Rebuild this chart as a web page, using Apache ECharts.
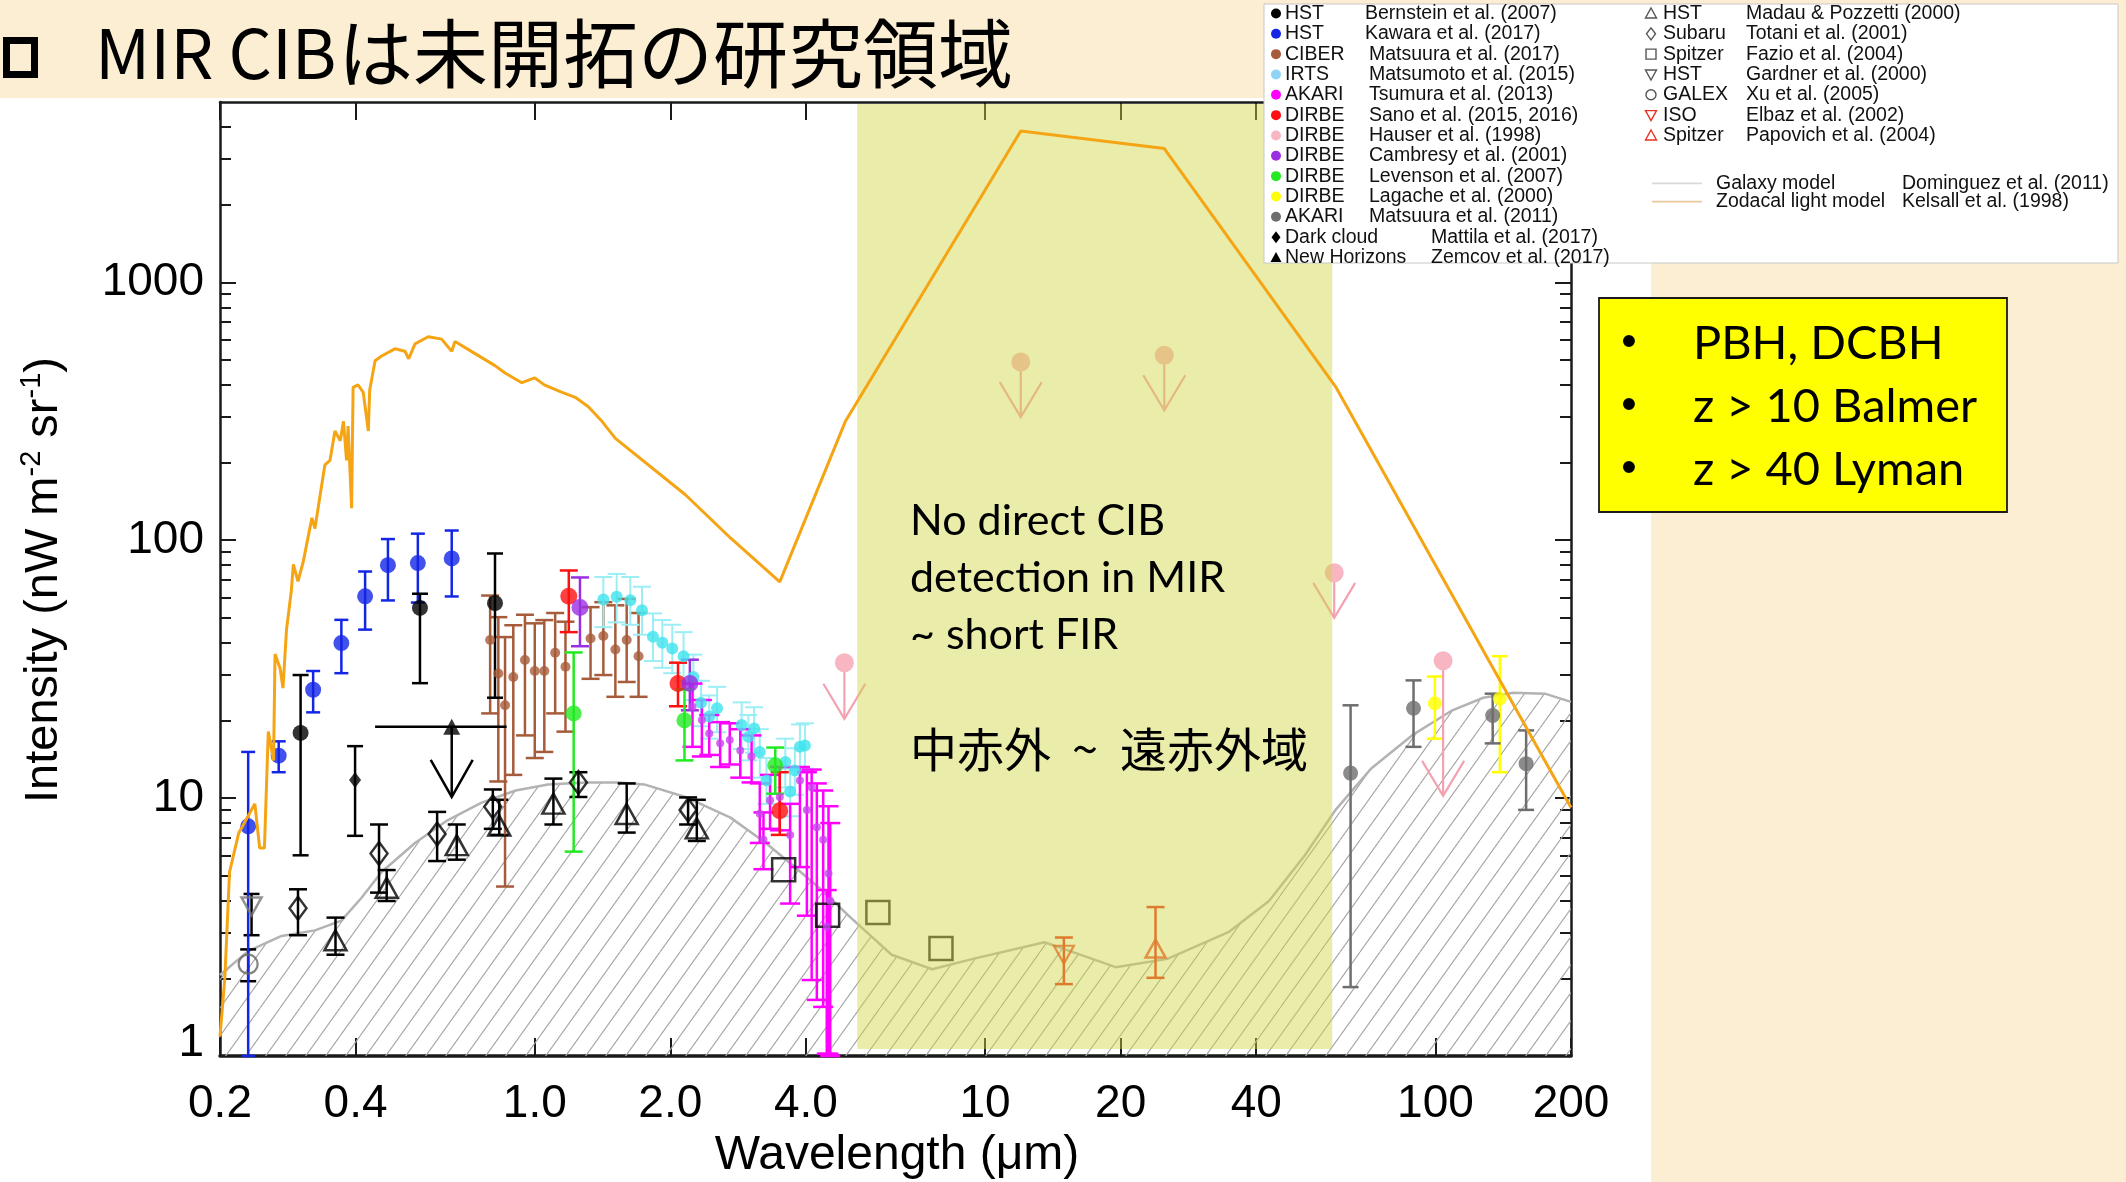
<!DOCTYPE html>
<html><head><meta charset="utf-8">
<script src="https://cdn.jsdelivr.net/npm/echarts@6/dist/echarts.min.js"></script>
<style>html,body{margin:0;padding:0;background:#fbeed2;}#c{width:2126px;height:1182px;}</style>
</head><body><div id="c"></div>
<script>
// ---------- axis ticks ----------
const xTickValues = [0.2, 0.4, 1, 2, 4, 10, 20, 40, 100, 200];
const xTickLabels = ['0.2', '0.4', '1.0', '2.0', '4.0', '10', '20', '40', '100', '200'];
const yTickValues = [1, 10, 100, 1000];
const yTickLabels = ['1', '10', '100', '1000'];
const yMinorTicks = [2,3,4,5,6,7,8,9,20,30,40,50,60,70,80,90,200,300,400,500,600,700,800,900,2000,3000,4000];
const xRange = [0.2, 200];
const yRange = [1, 5000];

// ---------- models [wavelength um, intensity] ----------
const zodiacalModel = [[0.2,1.19],[0.205,2.0],[0.21,5.17],[0.22,7.3],[0.229,8.3],[0.239,9.5],[0.245,6.4],[0.251,6.4],[0.256,18.1],[0.263,14.0],[0.265,36.2],[0.272,31.8],[0.276,26.7],[0.281,45],[0.288,63.5],[0.291,80.6],[0.298,69.3],[0.306,82.3],[0.32,122],[0.325,111],[0.334,151],[0.342,196],[0.351,204],[0.36,265],[0.37,243],[0.376,289],[0.382,204],[0.385,277],[0.392,133],[0.395,391],[0.405,400],[0.416,374],[0.427,265],[0.43,382],[0.442,496],[0.457,518],[0.489,552],[0.515,540],[0.525,505],[0.542,577],[0.58,615],[0.621,602],[0.654,540],[0.665,589],[0.737,529],[0.816,475],[0.859,445],[0.936,408],[1.0,426],[1.05,400],[1.15,374],[1.23,358],[1.315,329],[1.41,289],[1.51,248],[2.16,150],[2.72,102],[3.5,68.9],[4.9,290],[12,3860],[25,3300],[60,394],[200,9.2]];
const galaxyModel = [[0.2,2.06],[0.231,2.55],[0.274,2.92],[0.325,3.07],[0.372,3.35],[0.412,4.1],[0.457,5.17],[0.542,6.7],[0.64,8.2],[0.762,9.6],[0.907,10.7],[1.07,11.3],[1.3,11.5],[1.54,11.5],[1.75,11.3],[2.16,10.1],[2.72,8.4],[3.26,6.7],[3.83,5.3],[4.3,4.46],[5.03,3.44],[6.2,2.47],[7.63,2.17],[9.4,2.38],[13.55,2.76],[15.85,2.51],[19.5,2.21],[25.4,2.38],[34.7,3.02],[42.7,3.99],[51.3,6.0],[60,9.0],[71.9,13.0],[88.7,17.5],[109,21.9],[127.7,24.5],[149,25.6],[175,25.4],[200,23.6]];

// ---------- measurements [wavelength, intensity, errLow, errHigh] ----------
const bernstein = [[0.302,17.9,6.0,30],[0.556,54.6,27.9,62],[0.816,57,24.5,88.8]];
const kawara = [[0.231,7.77,1.0,15.1],[0.27,14.6,12.6,16.6],[0.322,26.3,21.5,31.1],[0.372,39.9,30.5,49.1],[0.42,60.6,45,75.6],[0.472,80,58.4,101],[0.55,81.5,57.3,106],[0.654,85,60.5,109]];
const ciber = [[0.796,41,21.3,61],[0.83,30.4,11.6,50.3],[0.859,22.9,4.54,42.1],[0.896,29.5,12.3,46.8],[0.951,34.3,17.5,51.4],[1.0,31.1,14.3,47.6],[1.05,31.1,15.1,49],[1.11,36.6,21.3,52.2],[1.17,32.3,18.1,48.3],[1.33,41.6,29,55],[1.42,42.5,30,57.5],[1.51,37.7,24.7,55.9],[1.6,41,28.2,59.2],[1.70,35.5,24.7,52.2]];
const irts = [[1.42,58.9,46,72],[1.52,60.3,48,74],[1.63,58.5,47,72],[1.73,53.5,43,66],[1.83,42.2,34,52],[1.92,40,32,49],[2.02,38,30.5,47],[2.14,35.5,28.5,44],[2.25,29.5,24,36],[2.34,23.4,19,28.5],[2.44,20.7,17,25],[2.54,22.3,18,27],[2.88,19.2,15.5,23.5],[2.98,17.3,14,21],[3.07,18.6,15,22.5],[3.16,15.1,12,18.5],[3.27,11.7,9.5,14.3],[3.6,13.8,11,17],[3.69,10.6,8.5,13],[3.78,12.8,10.3,15.6],[3.88,15.8,12.8,19.3],[3.98,16.0,13,19.5]];
const akariTsumura = [[2.24,22.6,15.8,27.8],[2.35,20.1,14.5,24.0],[2.44,17.8,14.7,21.0],[2.58,16.3,13.2,19.7],[2.71,16.8,13.5,19.5],[2.86,15.3,12.0,18.5],[3.03,14.5,11.5,17.5],[3.16,8.7,6.7,11.4],[3.22,6.9,5.3,8.8],[3.33,9.8,7.6,12.3],[3.5,10.1,7.5,13.2],[3.69,7.2,3.9,9.5],[3.88,11.7,5.4,13.2],[4.02,9.0,3.5,12.6],[4.12,11.0,1.97,12.9],[4.23,7.7,1.65,11.4],[4.37,6.9,1.55,10.7],[4.45,3.17,1.02,4.4],[4.49,5.1,1.02,9.3],[4.53,4.0,1.0,8.0]];
const sano = [[1.19,60.6,44,76.3],[2.08,27.8,22.7,33.5],[3.5,8.94,7.2,12.6]];
const cambresy = [[1.26,54.8,38.8,71.7],[2.21,27.8,21.9,34.4]];
const levenson = [[1.22,21.3,6.2,36.7],[2.15,20,14,26.4],[3.42,13.4,10.4,15.7]];
const lagache = [[99.7,23.3,17,29.6],[139,24.3,12.6,35.5]];
const matsuura2011 = [[64.8,12.5,1.85,22.9],[89.4,22.3,15.8,28.6],[134,20.9,16.3,25.4],[159,13.6,9.0,18.3]];
const mattila = [[0.399,11.75,7.14,15.9]];
const madau = [[0.361,2.81,2.47,3.44],[0.469,4.49,3.99,5.26],[0.671,6.57,5.77,7.9],[0.834,7.82,7.2,9.85],[1.10,9.52,7.9,11.9],[1.60,8.68,7.35,11.4],[2.29,7.63,6.82,9.85]];
const totani = [[0.298,3.74,2.94,4.43],[0.451,6.1,4.3,7.9],[0.607,7.26,5.7,8.84],[0.807,9.25,7.6,10.8],[1.25,11.5,10.1,12.6],[2.19,9.0,7.9,10.06]];
const gardner = [[0.235,3.8,2.94,4.25]];
const xu = [[0.231,2.27,1.95,2.59]];
const elbaz = [[14.96,2.47,1.90,2.88]];
const papovich = [[23.9,2.61,2.01,3.78]];
const fazio = [[3.57,5.27],[4.47,3.51],[5.78,3.6],[7.98,2.61]];
// upper limits [wavelength, intensity, arrow tip]
const hauserLimits = [[4.87,33.5,20.3],[12,491,300],[25,521,319],[59.6,74.8,50],[104,34.1,10.2]];
// New Horizons [wavelength, intensity, arrow tip, bandLow, bandHigh]
const zemcov = [[0.654,18.9,10.1,0.442,0.866]];
// MIR gap band [from, to, yLow, yHigh]
const mirBand = [[5.2, 59, 1, 5000]];

// ---------- texts ----------
const titleLatin = 'MIR CIB';
const titleJa = 'は未開拓の研究領域';
const bandLines = ['No direct CIB', 'detection in MIR', '~ short FIR'];
const bandJa = ['中赤外', '~', '遠赤外域'];
const boxLines = ['PBH, DCBH', 'z > 10 Balmer', 'z > 40 Lyman'];
const legendLeft = [['HST','Bernstein et al. (2007)'],['HST','Kawara et al. (2017)'],['CIBER','Matsuura et al. (2017)'],['IRTS','Matsumoto et al. (2015)'],['AKARI','Tsumura et al. (2013)'],['DIRBE','Sano et al. (2015, 2016)'],['DIRBE','Hauser et al. (1998)'],['DIRBE','Cambresy et al. (2001)'],['DIRBE','Levenson et al. (2007)'],['DIRBE','Lagache et al. (2000)'],['AKARI','Matsuura et al. (2011)'],['Dark cloud','Mattila et al. (2017)'],['New Horizons','Zemcov et al. (2017)']];
const legendRight = [['HST','Madau & Pozzetti (2000)'],['Subaru','Totani et al. (2001)'],['Spitzer','Fazio et al. (2004)'],['HST','Gardner et al. (2000)'],['GALEX','Xu et al. (2005)'],['ISO','Elbaz et al. (2002)'],['Spitzer','Papovich et al. (2004)']];
const legendLines = [['Galaxy model','Dominguez et al. (2011)'],['Zodacal light model','Kelsall et al. (1998)']];

// ================= rendering =================
const L = Math.log10;
const FONT = '"Liberation Sans", Arial, Helvetica, sans-serif';
const C = {
  black:'#000000', blue:'#1326e6', brown:'#a65b3a', cyan:'#3fe3ee', cyanBar:'#9aeef4', magenta:'#ff00ff',
  red:'#ff1010', pink:'#f8b6c2', pinkLine:'#f4a2b2', purple:'#9a2fe2', green:'#22ea22', yellow:'#ffff00',
  gray:'#6e6e6e', zodi:'#f5a514', galaxy:'#b3b3b3', isoRed:'#e8321e'
};

const chart = echarts.init(document.getElementById('c'), null, {renderer:'canvas', width:2126, height:1182});

function fmtFrom(vals, labels, raiseFirst) {
  return function (v) {
    const i = vals.findIndex(t => Math.abs(L(t) - v) < 1e-6);
    if (i < 0) return '';
    return (raiseFirst && i === 0) ? '{r|' + labels[i] + '}' : labels[i];
  };
}
const lineSt = {color:'#1a1a1a', width:2.5};
function xAxisVal(pos, labels) {
  return {
    type:'value', position:pos, min:L(xRange[0]), max:L(xRange[1]),
    axisLine:{show:true, onZero:false, lineStyle:{color:'#1a1a1a', width: pos === 'bottom' ? 3.5 : 2.5}},
    axisTick:{show:true, inside:true, length:18, customValues:xTickValues.map(L), lineStyle:{color:'#1a1a1a', width:2}},
    axisLabel:{show:labels, customValues:xTickValues.map(L), formatter:fmtFrom(xTickValues, xTickLabels),
      fontSize:46, fontFamily:FONT, color:'#000', margin:25},
    splitLine:{show:false}
  };
}
function yAxisVal(pos, major, labels) {
  return {
    type:'value', position:pos, min:L(yRange[0]), max:L(yRange[1]),
    axisLine:{show:major, onZero:false, lineStyle:lineSt},
    axisTick:{show:true, inside:true, length: major ? 16 : 11,
      customValues: major ? yTickValues.map(L) : yMinorTicks.map(L), lineStyle:{color:'#1a1a1a', width:2}},
    axisLabel:{show:labels, customValues:yTickValues.map(L), formatter:fmtFrom(yTickValues, yTickLabels, true),
      fontSize:46, fontFamily:FONT, color:'#000', margin:16,
      rich:{r:{fontSize:46, fontFamily:FONT, color:'#000', padding:[0,0,26,0]}}},
    splitLine:{show:false}
  };
}

// error bars custom series
function errSeries(data, color, capW, lw, z) {
  return {
    type:'custom', xAxisIndex:0, yAxisIndex:0, silent:true, z: z || 4, clip:false,
    data: data.map(d => [d[0], d[2], d[3]]),
    encode:{x:0, y:[1,2]},
    renderItem: function (params, api) {
      const lo = api.coord([api.value(0), api.value(1)]);
      const hi = api.coord([api.value(0), api.value(2)]);
      const h = capW / 2, st = {stroke:color, lineWidth:lw};
      return {type:'group', children:[
        {type:'line', shape:{x1:lo[0], y1:lo[1], x2:hi[0], y2:hi[1]}, style:st},
        {type:'line', shape:{x1:lo[0]-h, y1:lo[1], x2:lo[0]+h, y2:lo[1]}, style:st},
        {type:'line', shape:{x1:hi[0]-h, y1:hi[1], x2:hi[0]+h, y2:hi[1]}, style:st}
      ]};
    }
  };
}
function pts(data, symbol, size, itemStyle, extra) {
  return Object.assign({
    type:'scatter', xAxisIndex:0, yAxisIndex:0, silent:true, z:5,
    data: data.map(d => [d[0], d[1]]), symbol:symbol, symbolSize:size, itemStyle:itemStyle
  }, extra || {});
}
const openBlack = {color:'rgba(0,0,0,0)', borderColor:'#000', borderWidth:2.5};

// hatch pattern
function hatch() {
  const w = 20, h = 28, c = document.createElement('canvas');
  c.width = w; c.height = h;
  const g = c.getContext('2d');
  g.strokeStyle = '#a4a4a4'; g.lineWidth = 1.1;
  g.beginPath();
  g.moveTo(0, h); g.lineTo(w, 0);
  g.moveTo(-w, h); g.lineTo(0, 0);
  g.moveTo(w, h); g.lineTo(2*w, 0);
  g.stroke();
  return c;
}
const hatchPattern = {image: hatch(), repeat:'repeat'};

const series = [
  { // hatched area under galaxy model
    type:'custom', xAxisIndex:0, yAxisIndex:0, silent:true, z:1, data: galaxyModel, encode:{x:0, y:1},
    renderItem: function (params, api) {
      if (params.dataIndex !== 0) return null;
      const p = galaxyModel.map(d => api.coord(d));
      p.push(api.coord([xRange[1], yRange[0]]));
      p.push(api.coord([xRange[0], yRange[0]]));
      return {type:'polygon', shape:{points:p}, style:{fill:hatchPattern, stroke:null}};
    }
  },
  {type:'line', xAxisIndex:0, yAxisIndex:0, data:galaxyModel, showSymbol:false, silent:true, z:2,
   lineStyle:{color:C.galaxy, width:2.5}},
  {type:'line', xAxisIndex:0, yAxisIndex:0, data:zodiacalModel, showSymbol:false, silent:true, z:9,
   lineStyle:{color:C.zodi, width:3}},

  errSeries(madau, '#000', 18, 2.5), pts(madau, 'triangle', [22,20], openBlack),
  errSeries(totani, '#000', 18, 2.5), pts(totani, 'diamond', [17,23], openBlack),
  errSeries(gardner, '#000', 16, 2.5), pts(gardner, 'triangle', [20,18], {color:'rgba(0,0,0,0)', borderColor:'#777', borderWidth:2.5}, {symbolRotate:180}),
  errSeries(xu, '#000', 16, 2.5), pts(xu, 'circle', 19, {color:'rgba(0,0,0,0)', borderColor:'#666', borderWidth:2.2}),
  pts(fazio, 'rect', 23, openBlack),
  errSeries(elbaz, C.isoRed, 18, 2.5), pts(elbaz, 'triangle', [20,18], {color:'rgba(0,0,0,0)', borderColor:C.isoRed, borderWidth:2.2}, {symbolRotate:180}),
  errSeries(papovich, C.isoRed, 18, 2.5), pts(papovich, 'triangle', [20,18], {color:'rgba(0,0,0,0)', borderColor:C.isoRed, borderWidth:2.5}),

  errSeries(ciber, C.brown, 18, 2.5), pts(ciber, 'circle', 10, {color:C.brown}),
  errSeries(irts, C.cyanBar, 18, 2), pts(irts, 'circle', 12, {color:C.cyan}),
  errSeries(akariTsumura, C.magenta, 20, 2.5), pts(akariTsumura, 'circle', 8, {color:'#c845ee'}),
  errSeries(kawara, C.blue, 14, 2.5), pts(kawara, 'circle', 16, {color:C.blue}),
  errSeries(bernstein, '#000', 16, 2.5), pts(bernstein, 'circle', 16, {color:'#000'}),
  errSeries(mattila, '#000', 16, 2.5), pts(mattila, 'diamond', [12,16], {color:'#000'}),
  errSeries(sano, C.red, 18, 2.5), pts(sano, 'circle', 17, {color:C.red}),
  errSeries(cambresy, C.purple, 18, 2.5), pts(cambresy, 'circle', 17, {color:C.purple}),
  errSeries(levenson, C.green, 18, 2.5), pts(levenson, 'circle', 16, {color:C.green}),
  errSeries(lagache, C.yellow, 16, 2.5), pts(lagache, 'circle', 14, {color:C.yellow}),
  errSeries(matsuura2011, C.gray, 16, 2.5), pts(matsuura2011, 'circle', 15, {color:C.gray}),

  { // Hauser upper limits
    type:'custom', xAxisIndex:0, yAxisIndex:0, silent:true, z:5, clip:false, data:hauserLimits, encode:{x:0, y:[1,2]},
    renderItem: function (params, api) {
      const c = api.coord([api.value(0), api.value(1)]);
      const t = api.coord([api.value(0), api.value(2)]);
      const st = {stroke:C.pinkLine, lineWidth:2.2, fill:null};
      return {type:'group', children:[
        {type:'line', shape:{x1:c[0], y1:c[1], x2:t[0], y2:t[1]}, style:st},
        {type:'polyline', shape:{points:[[t[0]-21, t[1]-35], [t[0], t[1]], [t[0]+21, t[1]-35]]}, style:st},
        {type:'circle', shape:{cx:c[0], cy:c[1], r:9.5}, style:{fill:C.pink}}
      ]};
    }
  },
  { // New Horizons
    type:'custom', xAxisIndex:0, yAxisIndex:0, silent:true, z:5, clip:false, data:zemcov, encode:{x:[0,3,4], y:[1,2]},
    renderItem: function (params, api) {
      const c = api.coord([api.value(0), api.value(1)]);
      const t = api.coord([api.value(0), api.value(2)]);
      const a = api.coord([api.value(3), api.value(1)]);
      const b = api.coord([api.value(4), api.value(1)]);
      const st = {stroke:'#000', lineWidth:2.5, fill:null};
      return {type:'group', children:[
        {type:'line', shape:{x1:a[0], y1:a[1], x2:b[0], y2:b[1]}, style:st},
        {type:'line', shape:{x1:c[0], y1:c[1], x2:t[0], y2:t[1]}, style:st},
        {type:'polyline', shape:{points:[[t[0]-21, t[1]-37], [t[0], t[1]], [t[0]+21, t[1]-37]]}, style:st}
      ]};
    }
  },
  pts(zemcov, 'triangle', [17,16], {color:'#000'}, {z:6}),

  { // MIR gap band
    type:'custom', xAxisIndex:0, yAxisIndex:0, silent:true, z:8, data:mirBand, encode:{x:[0,1], y:[2,3]},
    renderItem: function (params, api) {
      const a = api.coord([api.value(0), api.value(3)]);
      const b = api.coord([api.value(1), api.value(2)]);
      return {type:'rect', shape:{x:a[0], y:a[1]+2, width:b[0]-a[0], height:b[1]-a[1]-9},
        style:{fill:'rgba(208,213,66,0.45)'}};
    }
  }
];

// ---------- graphic overlay ----------
const G = [];
G.push({type:'rect', z:-100, silent:true, shape:{x:0, y:98, width:1651, height:1084}, style:{fill:'#ffffff'}});
G.push({type:'rect', z:100, silent:true, shape:{x:6.5, y:40.5, width:28, height:34}, style:{fill:null, stroke:'#000', lineWidth:7}});
G.push({type:'text', z:100, silent:true, x:95, y:53, style:{text:titleLatin, fontSize:68, fontFamily:'"Noto Sans CJK JP"', fill:'#000', textVerticalAlign:'middle'}});
G.push({type:'text', z:100, silent:true, x:338, y:53, style:{text:titleJa, fontSize:75, fontFamily:'"Noto Sans CJK JP"', fill:'#000', textVerticalAlign:'middle'}});
// axis titles
G.push({type:'text', z:100, silent:true, x:897, y:1156, style:{text:'Wavelength (μm)', fontSize:48, fontFamily:FONT, fill:'#000', textAlign:'center', textVerticalAlign:'middle'}});
G.push({type:'text', z:100, silent:true, x:44, y:580, rotation:Math.PI/2, style:{
  text:'{a|Intensity (nW m}{s|-2}{a| sr}{s|-1}{a|)}', textAlign:'center', textVerticalAlign:'middle',
  rich:{a:{fontSize:47, fontFamily:FONT, fill:'#000', lineHeight:54}, s:{fontSize:29, fontFamily:FONT, fill:'#000', verticalAlign:'top', lineHeight:31}}
}});
// band texts
bandLines.forEach((t, i) => G.push({type:'text', z:100, silent:true, x:910, y:521 + i*57,
  style:{text:t, fontSize:43, fontFamily:'Lato, "Open Sans", sans-serif', fill:'#000', textVerticalAlign:'middle'}}));
G.push({type:'text', z:100, silent:true, x:910, y:749, style:{text:bandJa[0], fontSize:47, fontFamily:'"Noto Sans CJK JP"', fill:'#000', textVerticalAlign:'middle'}});
G.push({type:'text', z:100, silent:true, x:1085, y:749, style:{text:bandJa[1], fontSize:47, fontFamily:'"Noto Sans CJK JP"', fill:'#000', textAlign:'center', textVerticalAlign:'middle'}});
G.push({type:'text', z:100, silent:true, x:1120, y:749, style:{text:bandJa[2], fontSize:47, fontFamily:'"Noto Sans CJK JP"', fill:'#000', textVerticalAlign:'middle'}});
// yellow box
G.push({type:'rect', z:100, silent:true, shape:{x:1599, y:298, width:408, height:214}, style:{fill:'#ffff00', stroke:'#1a1a1a', lineWidth:1.8}});
boxLines.forEach((t, i) => {
  G.push({type:'text', z:101, silent:true, x:1629, y:344 + i*63, style:{text:'•', fontSize:44, fontFamily:'"Liberation Sans"', fill:'#000', textAlign:'center', textVerticalAlign:'middle'}});
  G.push({type:'text', z:101, silent:true, x:1693, y:344 + i*63, style:{text:t, fontSize:47, fontFamily:'Lato, "Open Sans", sans-serif', fill:'#000', textVerticalAlign:'middle'}});
});
// legend box
G.push({type:'rect', z:100, silent:true, shape:{x:1264, y:4, width:854, height:259}, style:{fill:'#ffffff', stroke:'#c8c8c8', lineWidth:1}});
function legMarker(kind, x, y, color) {
  const open = {fill:'#fff', stroke:color, lineWidth:1.4};
  if (kind === 'circle') return {type:'circle', shape:{cx:x, cy:y, r:5}, style:{fill:color}};
  if (kind === 'diamond') return {type:'polygon', shape:{points:[[x,y-6],[x+4.5,y],[x,y+6],[x-4.5,y]]}, style:{fill:color}};
  if (kind === 'triangle') return {type:'polygon', shape:{points:[[x,y-5.5],[x+5.5,y+4.5],[x-5.5,y+4.5]]}, style:{fill:color}};
  if (kind === 'oTri') return {type:'polygon', shape:{points:[[x,y-5.5],[x+5.5,y+4.5],[x-5.5,y+4.5]]}, style:open};
  if (kind === 'oDown') return {type:'polygon', shape:{points:[[x,y+5.5],[x+5.5,y-4.5],[x-5.5,y-4.5]]}, style:open};
  if (kind === 'oDia') return {type:'polygon', shape:{points:[[x,y-6],[x+4.5,y],[x,y+6],[x-4.5,y]]}, style:open};
  if (kind === 'oSq') return {type:'rect', shape:{x:x-5, y:y-5, width:10, height:10}, style:open};
  return {type:'circle', shape:{cx:x, cy:y, r:5}, style:open};
}
const leftStyle = [['circle','#000'],['circle',C.blue],['circle',C.brown],['circle','#8fd3f5'],['circle',C.magenta],['circle',C.red],['circle',C.pink],['circle',C.purple],['circle',C.green],['circle',C.yellow],['circle',C.gray],['diamond','#000'],['triangle','#000']];
const rightStyle = [['oTri','#555'],['oDia','#555'],['oSq','#555'],['oDown','#555'],['oCirc','#555'],['oDown',C.isoRed],['oTri',C.isoRed]];
const legFont = {fontSize:19.5, fontFamily:FONT, fill:'#111', textVerticalAlign:'middle'};
legendLeft.forEach((r, i) => {
  const y = 13.5 + i * 20.33;
  const m = legMarker(leftStyle[i][0], 1276, y, leftStyle[i][1]); m.z = 101; m.silent = true; G.push(m);
  G.push({type:'text', z:101, silent:true, x:1285, y:y, style:Object.assign({text:r[0]}, legFont)});
  const ax = i >= 11 ? 1431 : (i < 2 ? 1365 : 1369);
  G.push({type:'text', z:101, silent:true, x:ax, y:y, style:Object.assign({text:r[1]}, legFont)});
});
legendRight.forEach((r, i) => {
  const y = 13.5 + i * 20.33;
  const m = legMarker(rightStyle[i][0], 1651, y, rightStyle[i][1]); m.z = 101; m.silent = true; G.push(m);
  G.push({type:'text', z:101, silent:true, x:1663, y:y, style:Object.assign({text:r[0]}, legFont)});
  G.push({type:'text', z:101, silent:true, x:1746, y:y, style:Object.assign({text:r[1]}, legFont)});
});
const lineCols = ['#d9d9d9', '#e9c99c'];
legendLines.forEach((r, i) => {
  const y = 183.3 + i * 18.4;
  G.push({type:'line', z:101, silent:true, shape:{x1:1652, y1:y, x2:1702, y2:y}, style:{stroke:lineCols[i], lineWidth:1.8}});
  G.push({type:'text', z:101, silent:true, x:1716, y:y, style:Object.assign({text:r[0]}, legFont)});
  G.push({type:'text', z:101, silent:true, x:1902, y:y, style:Object.assign({text:r[1]}, legFont)});
});

chart.setOption({
  animation:false,
  backgroundColor:'#fbeed2',
  grid:{left:220, right:555, top:102, bottom:126, containLabel:false},
  xAxis:[
    {type:'log', logBase:10, min:xRange[0], max:xRange[1], show:false},
    xAxisVal('bottom', true),
    xAxisVal('top', false)
  ],
  yAxis:[
    {type:'log', logBase:10, min:yRange[0], max:yRange[1], show:false},
    yAxisVal('left', true, true),
    yAxisVal('left', false, false),
    yAxisVal('right', true, false),
    yAxisVal('right', false, false)
  ],
  series:series,
  graphic:{elements:G}
});
</script></body></html>
